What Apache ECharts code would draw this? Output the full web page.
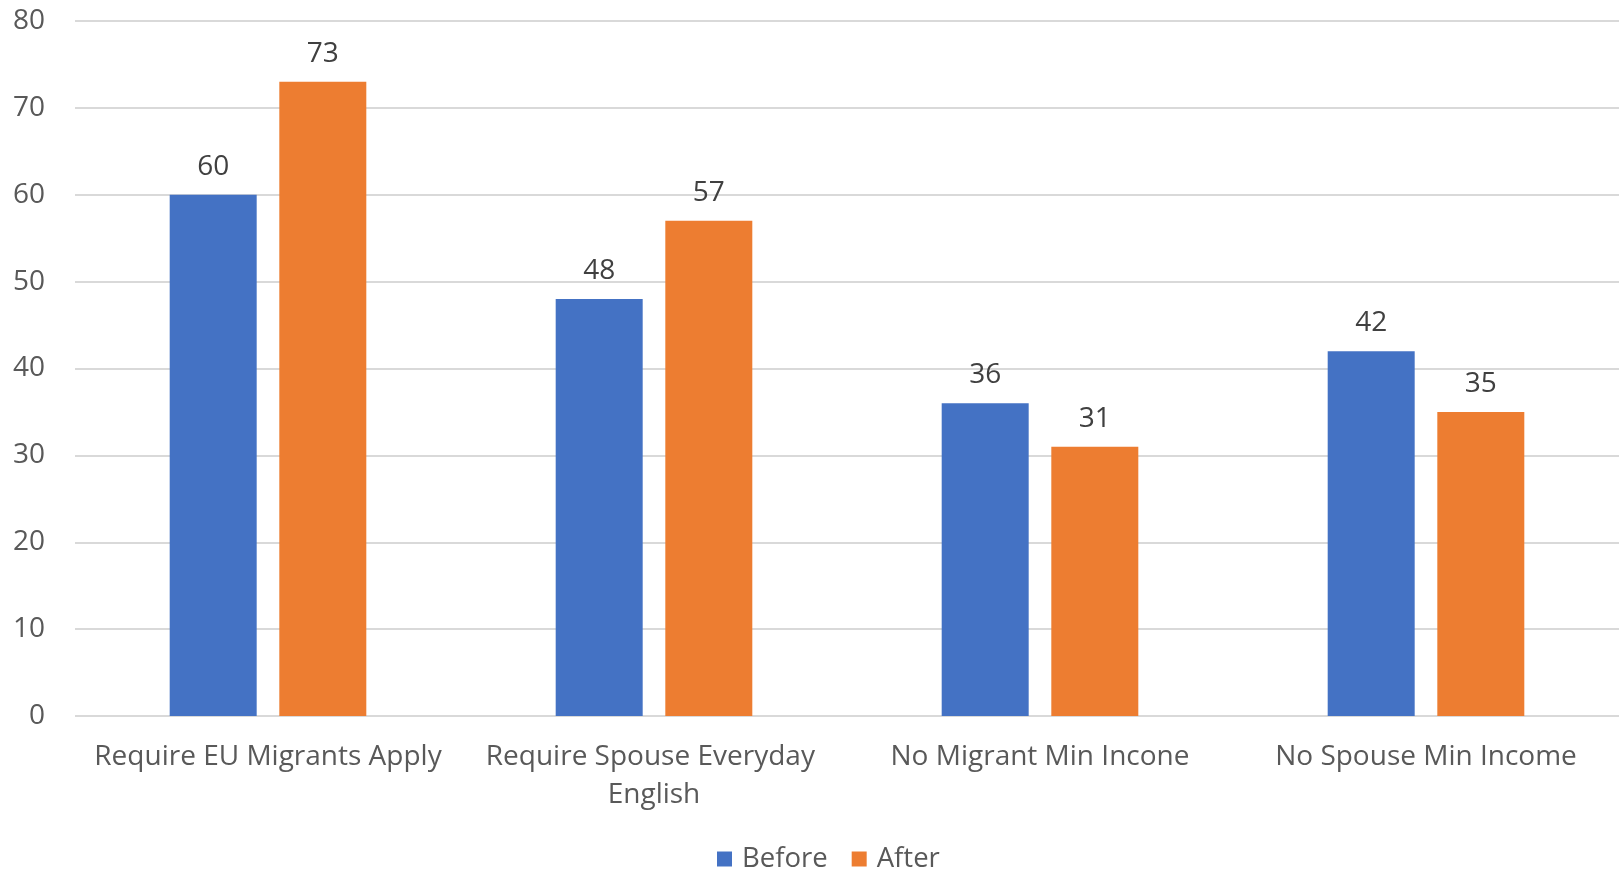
<!DOCTYPE html>
<html>
<head>
<meta charset="utf-8">
<script src="https://cdn.jsdelivr.net/npm/echarts@6/dist/echarts.min.js"></script>
<style>html,body{margin:0;padding:0;background:#fff;}#c{width:1619px;height:872px;}</style>
</head>
<body>
<div id="c"></div>
<script>
const categories = ["Require EU Migrants Apply", "Require Spouse Everyday English", "No Migrant Min Incone", "No Spouse Min Income"];
const beforeValues = [60, 48, 36, 42];
const afterValues = [73, 57, 31, 35];
const seriesNames = ["Before", "After"];

const chart = echarts.init(document.getElementById('c'), null, {renderer: 'canvas'});
const font = "'Open Sans', sans-serif";
const fs = 28;
const labelStyle = {show: true, position: 'top', distance: 14, color: '#404040', fontSize: fs, fontFamily: font};
chart.setOption({
  animation: false,
  textStyle: {fontFamily: font},
  grid: {left: 75, right: -4, top: 21, bottom: 156, containLabel: false},
  legend: {
    bottom: -6, left: 712, itemWidth: 15, itemHeight: 15, itemGap: 24, icon: 'rect',
    textStyle: {color: '#595959', fontSize: 27.5, fontFamily: font, padding: [0, 0, 0, 5]},
    data: seriesNames
  },
  xAxis: {
    type: 'category', data: categories,
    axisLine: {show: false}, axisTick: {show: false},
    axisLabel: {interval: 0, color: '#595959', fontSize: fs, fontFamily: font, margin: 22, lineHeight: 38, width: 372, overflow: 'break'}
  },
  yAxis: {
    type: 'value', min: 0, max: 80, interval: 10,
    axisLine: {show: false}, axisTick: {show: false},
    axisLabel: {color: '#595959', fontSize: fs, fontFamily: font, margin: 30},
    splitLine: {lineStyle: {color: '#D9D9D9', width: 2}}
  },
  series: [
    {name: seriesNames[0], type: 'bar', data: beforeValues, barWidth: 87, barGap: '26%', itemStyle: {color: '#4472C4'}, label: labelStyle},
    {name: seriesNames[1], type: 'bar', data: afterValues, barWidth: 87, barGap: '26%', itemStyle: {color: '#ED7D31'}, label: labelStyle}
  ]
});
</script>
</body>
</html>
